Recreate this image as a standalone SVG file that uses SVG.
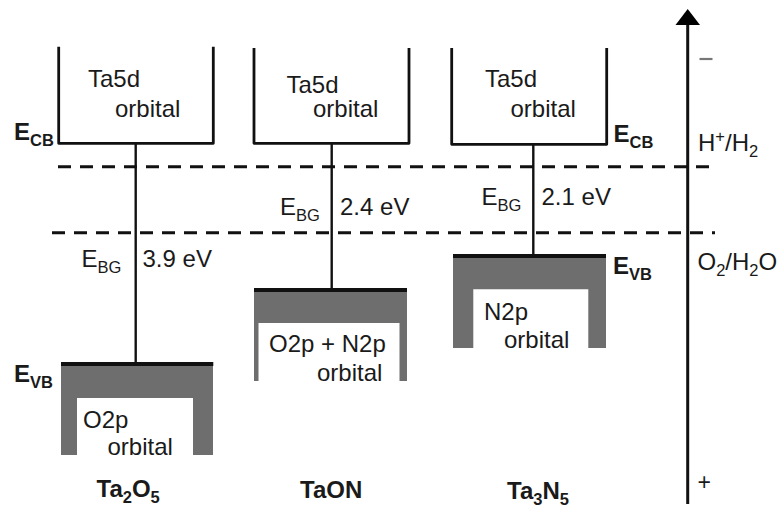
<svg xmlns="http://www.w3.org/2000/svg" width="780" height="508" viewBox="0 0 780 508">
<style>
text{font-family:"Liberation Sans",Arial,sans-serif;fill:#1a1a1a}
.t{font-size:24px}
.b{font-size:24px;font-weight:bold}
.s{font-size:16.5px}
.bs{font-size:16.5px;font-weight:bold}
.box{fill:none;stroke:#111;stroke-width:2.8;stroke-linejoin:round}
.stem{stroke:#111;stroke-width:2.4}
.vb{fill:#6e6e6e}
.vbl{stroke:#111;stroke-width:4}
.dash{stroke:#111;stroke-width:3;stroke-dasharray:13 9}
</style>
<g id="connectors">
<line class="dash" x1="58" y1="166.7" x2="715" y2="166.7"/>
<line class="dash" x1="52" y1="232.7" x2="715" y2="232.7"/>
<line class="stem" x1="135.7" y1="143" x2="135.7" y2="364"/>
<line class="stem" x1="331.7" y1="143" x2="331.7" y2="290"/>
<line class="stem" x1="533.3" y1="144" x2="533.3" y2="256"/>
</g>
<g id="axis">
<line x1="687.7" y1="504" x2="687.7" y2="22" stroke="#111" stroke-width="3"/>
<path d="M687.7,9 L700,25 L675.5,25 Z" fill="#000"/>
<line x1="699.5" y1="59" x2="712.5" y2="59" stroke="#777" stroke-width="2.2"/>
<text x="697.5" y="489.5" style="font-size:23px">+</text>
<text class="t" x="698" y="151">H<tspan class="s" dy="-9">+</tspan><tspan dy="9">/H</tspan><tspan class="s" dy="6">2</tspan></text>
<text class="t" x="697.5" y="270">O<tspan class="s" dy="6">2</tspan><tspan dy="-6">/H</tspan><tspan class="s" dy="6">2</tspan><tspan dy="-6">O</tspan></text>
</g>
<g id="ta2o5">
<path class="box" d="M58.7,46.7 V143.3 H213.3 V46.7"/>
<text class="t" x="88" y="87">Ta5d</text>
<text class="t" x="115" y="117">orbital</text>
<text class="b" x="14" y="140">E<tspan class="bs" dy="6">CB</tspan></text>
<text class="t" x="81.5" y="267">E<tspan class="s" dy="6">BG</tspan></text>
<text class="t" x="142.5" y="267">3.9 eV</text>
<path class="vb" d="M61,364 H213 V455 H193 V398 H77 V455 H61 Z"/>
<line class="vbl" x1="61" y1="364" x2="213.3" y2="364"/>
<text class="b" x="14" y="382">E<tspan class="bs" dy="6">VB</tspan></text>
<text class="t" x="83" y="428">O2p</text>
<text class="t" x="107.5" y="455">orbital</text>
<text class="b" x="96.5" y="497">Ta<tspan class="bs" dy="6">2</tspan><tspan dy="-6">O</tspan><tspan class="bs" dy="6">5</tspan></text>
</g>
<g id="taon">
<path class="box" d="M254,48 V143.3 H409 V48"/>
<text class="t" x="286.5" y="93">Ta5d</text>
<text class="t" x="313" y="117">orbital</text>
<text class="t" x="280" y="215">E<tspan class="s" dy="6">BG</tspan></text>
<text class="t" x="340" y="215">2.4 eV</text>
<path class="vb" d="M254,290 H407 V381 H399.5 V323 H258.5 V381 H254 Z"/>
<line class="vbl" x1="254" y1="290" x2="407" y2="290"/>
<text class="t" x="269" y="352">O2p + N2p</text>
<text class="t" x="317" y="381">orbital</text>
<text class="b" x="300" y="498">TaON</text>
</g>
<g id="ta3n5">
<path class="box" d="M451.7,48 V144.3 H606.7 V48"/>
<text class="t" x="485" y="87">Ta5d</text>
<text class="t" x="510.5" y="117">orbital</text>
<text class="b" x="613.5" y="142">E<tspan class="bs" dy="6">CB</tspan></text>
<text class="t" x="481.5" y="205">E<tspan class="s" dy="6">BG</tspan></text>
<text class="t" x="541.5" y="205">2.1 eV</text>
<path class="vb" d="M453,256 H606 V348 H588.3 V289.3 H473.3 V348 H453 Z"/>
<line class="vbl" x1="453" y1="256" x2="606" y2="256"/>
<text class="b" x="613" y="273.5">E<tspan class="bs" dy="6">VB</tspan></text>
<text class="t" x="484" y="319.5">N2p</text>
<text class="t" x="504" y="348">orbital</text>
<text class="b" x="507" y="498.5">Ta<tspan class="bs" dy="6">3</tspan><tspan dy="-6">N</tspan><tspan class="bs" dy="6">5</tspan></text>
</g>
</svg>
